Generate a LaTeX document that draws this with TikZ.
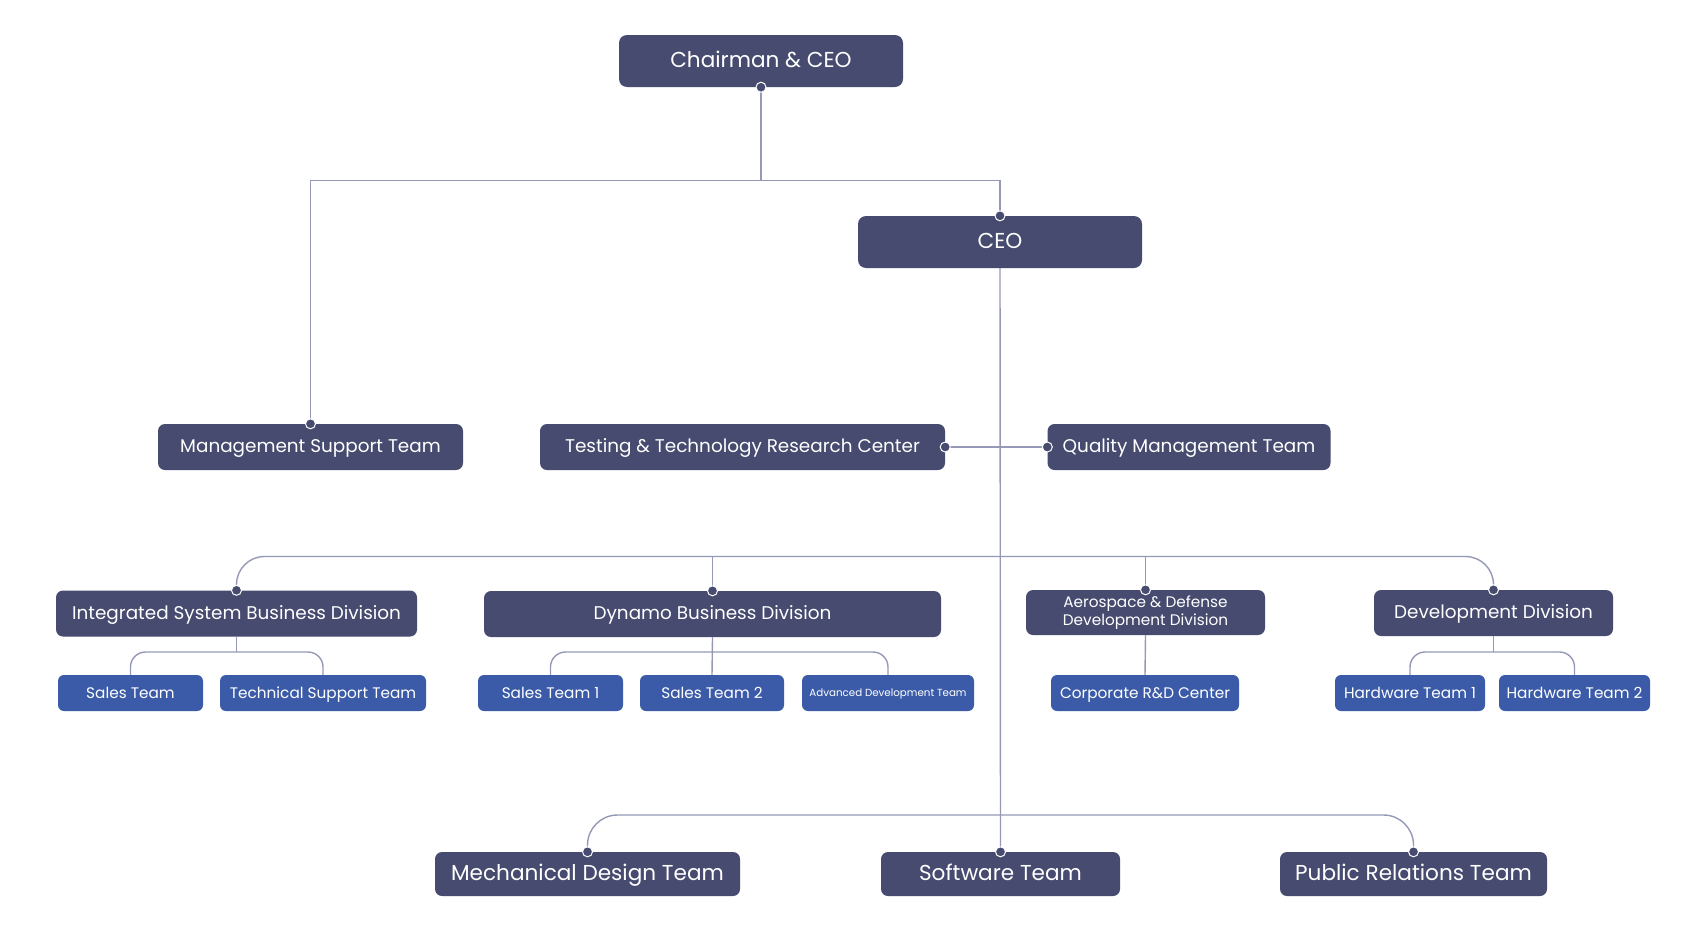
\documentclass[tikz,border=0pt]{standalone}
\usepackage{fontspec}
\setmainfont{Poppins}
\usepackage{tikz}
\usetikzlibrary{positioning, calc}

\definecolor{boxdark}{RGB}{70,75,111}
\definecolor{boxblue}{RGB}{59,91,168}
\definecolor{linkgrey}{RGB}{150,153,182}

\begin{document}
\begin{tikzpicture}[x=1pt, y=-1pt,
                head/.style={draw=none, fill=boxdark, rounded corners=8pt, text=white, minimum width=284pt, minimum height=52pt, inner sep=0pt, text height=15.5pt, text depth=3.5pt, font=\fontsize{21.6}{26}\selectfont},
                box/.style={draw=none, fill=boxdark, rounded corners=7pt, text=white, minimum height=46pt, inner sep=0pt, align=center, font=\fontsize{18.4}{22}\selectfont},
                unit/.style={box, text height=14pt, text depth=2.5pt},
                bigunit/.style={box, minimum height=44pt, text height=16.5pt, text depth=3pt, font=\fontsize{21.6}{26}\selectfont},
                team/.style={draw=none, fill=boxblue, rounded corners=6pt, text=white, minimum height=36pt, inner sep=0pt, text height=12.5pt, text depth=2pt, font=\fontsize{15.3}{19}\selectfont},
                link/.style={draw=linkgrey, line width=1.4pt},
                pin/.style={circle, fill=boxdark, draw=white, line width=1pt, inner sep=0pt, minimum size=10pt}
            ]
            \useasboundingbox[fill=white] (0,0) rectangle (1685,926);

            % Knoten
            \node[head] (chair) at (761,61) {Chairman \& CEO};
            \node[head] (ceo) at (1000,242) {CEO};

            \node[unit, minimum width=305pt] (mst) at (310.5,447) {Management Support Team};
            \node[unit, minimum width=405pt] (ttrc) at (742.5,447) {Testing \& Technology Research Center};
            \node[unit, minimum width=283pt] (qmt) at (1189,447) {Quality Management Team};

            \node[unit, minimum width=361pt] (isbd) at (236.5,613.5) {Integrated System Business Division};
            \node[unit, minimum width=457pt] (dbd) at (712.5,614) {Dynamo Business Division};
            \node[box, minimum width=239pt, minimum height=45pt, font=\fontsize{15.3}{17.5}\selectfont] (addd) at (1145.5,612.5) {Aerospace \& Defense\\Development Division};
            \node[unit, minimum width=239pt] (devdiv) at (1493.5,613) {Development Division};

            \node[team, minimum width=145pt] (sales) at (130.5,693) {Sales Team};
            \node[team, minimum width=206pt] (tst) at (323,693) {Technical Support Team};
            \node[team, minimum width=145pt] (salesA) at (550.5,693) {Sales Team 1};
            \node[team, minimum width=144pt] (salesB) at (712,693) {Sales Team 2};
            \node[team, minimum width=172pt, text height=8.5pt, text depth=1.5pt, font=\fontsize{10.3}{13}\selectfont] (adt) at (888,693) {Advanced Development Team};
            \node[team, minimum width=188pt] (crdc) at (1145,693) {Corporate R\&D Center};
            \node[team, minimum width=150pt] (hwA) at (1410,693) {Hardware Team 1};
            \node[team, minimum width=151pt] (hwB) at (1574.5,693) {Hardware Team 2};

            \node[bigunit, minimum width=305pt] (mdt) at (587.5,874) {Mechanical Design Team};
            \node[bigunit, minimum width=239pt] (swt) at (1000.5,874) {Software Team};
            \node[bigunit, minimum width=267pt] (prt) at (1413.5,874) {Public Relations Team};

            % Kanten zwischen Knoten
            \draw[link] (chair.south) -- (chair.south |- 0,180.5) -| (ceo.north);
            \draw[link] (chair.south |- 0,180.5) -| (mst.north);
            \draw[link] (ceo.south) -- (swt.north);
            \draw[link] (ttrc.east) -- (qmt.west);

            \draw[link, rounded corners=28pt] (isbd.north) |- (devdiv.north |- 0,556.5) -- (devdiv.north);
            \draw[link] (dbd.north) -- (dbd.north |- 0,556.5);
            \draw[link] (addd.north) -- (addd.north |- 0,556.5);

            \draw[link] (isbd.south) -- (isbd.south |- 0,652);
            \draw[link, rounded corners=15pt] (sales.north) |- (tst.north |- 0,652) -- (tst.north);
            \draw[link] (dbd.south) -- (salesB.north);
            \draw[link, rounded corners=15pt] (salesA.north) |- (adt.north |- 0,652) -- (adt.north);
            \draw[link] (addd.south) -- (crdc.north);
            \draw[link] (devdiv.south) -- (devdiv.south |- 0,652);
            \draw[link, rounded corners=15pt] (hwA.north) |- (hwB.north |- 0,652) -- (hwB.north);

            \draw[link, rounded corners=30pt] (mdt.north) |- (prt.north |- 0,815) -- (prt.north);

            % Punkte
            \foreach \spot in {chair.south, ceo.north, mst.north, ttrc.east, qmt.west, isbd.north, dbd.north, addd.north, devdiv.north, mdt.north, swt.north, prt.north}
                \node[pin] at (\spot) {};

        \end{tikzpicture}
\end{document}
